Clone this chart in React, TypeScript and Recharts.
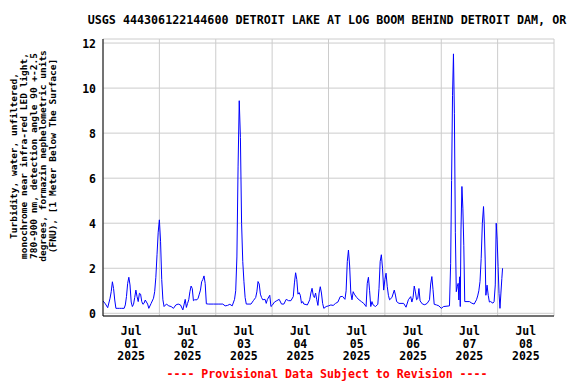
import React from "react";
import { LineChart, Line, XAxis, YAxis, CartesianGrid } from "recharts";

// Hours since 2025-07-01 00:00
const hours = [
  0, 1, 2, 3, 3.5, 4, 4.5, 5, 5.5, 6, 7, 8, 9, 9.5, 10, 10.5, 11, 11.5, 12, 12.5,
  13, 13.5, 14, 14.5, 15, 15.5, 16, 16.5, 17, 17.5, 18, 19, 19.5, 20.5, 21.5, 22, 22.5, 23, 23.5, 24,
  24.5, 25, 25.5, 26, 27, 28, 29, 30, 31, 32, 33, 34, 35, 35.5, 36, 36.5, 37, 37.5, 38, 38.5,
  39, 40, 40.5, 41, 41.5, 42, 42.5, 43, 43.5, 44, 45, 47, 49, 51, 52, 53, 54, 55, 56, 56.5,
  57, 57.5, 58, 58.5, 59, 59.5, 60, 60.5, 61, 63, 64, 65, 65.5, 66, 66.5, 67, 67.5, 68, 69, 69.5,
  70, 71, 71.5, 72, 73, 74, 75, 76, 77, 78, 79, 80, 81, 81.5, 82, 82.5, 83, 83.5, 84, 84.5,
  85, 85.5, 86, 87, 88, 88.5, 89, 89.5, 90, 90.5, 91, 91.5, 92, 92.5, 93, 93.5, 94, 95, 96, 97,
  98, 99, 100, 101, 102, 103, 103.5, 104, 104.5, 105, 105.5, 106, 106.5, 107, 108, 109, 110, 111, 112, 112.5,
  113, 113.5, 114, 114.5, 115, 116, 117, 117.5, 118, 118.5, 119, 119.5, 120, 120.5, 121, 121.5, 122, 123, 124, 124.5,
  125, 126, 128, 129, 130, 131, 131.5, 132, 132.5, 133, 133.5, 134, 134.5, 135, 136, 137, 138, 139, 139.5, 140,
  140.5, 141, 142, 143, 144, 145, 147.5, 148, 148.4, 148.8, 149.2, 149.6, 150, 150.4, 150.8, 151.2, 151.5, 151.8, 152.1, 152.4,
  152.8, 153.2, 153.6, 154, 156, 157, 158, 159, 159.5, 160, 160.5, 161, 161.5, 162, 162.3, 162.7, 163, 163.5, 164, 164.5,
  165, 166, 166.5, 167, 167.4, 167.8, 168.2, 168.6, 169, 169.4, 169.8, 170.1,
];

const turbidity = [
  0.55, 0.42, 0.25, 0.67, 0.96, 1.4, 1.1, 0.59, 0.22, 0.22, 0.22, 0.22, 0.22, 0.37, 0.75, 1.33, 1.6, 1.26, 0.5, 0.3,
  0.4, 0.7, 1.03, 0.74, 0.52, 0.89, 0.85, 0.52, 0.4, 0.45, 0.59, 0.41, 0.22, 0.44, 0.67, 0.96, 1.6, 2.6, 3.6, 4.15,
  3.2, 1.5, 0.6, 0.3, 0.41, 0.33, 0.3, 0.22, 0.37, 0.41, 0.37, 0.15, 0.62, 0.26, 0.44, 0.6, 0.96, 1.21, 1.1, 0.56,
  0.6, 0.6, 0.67, 0.85, 1.03, 1.4, 1.5, 1.66, 1.33, 0.42, 0.41, 0.41, 0.41, 0.41, 0.33, 0.35, 0.4, 0.33, 0.62, 1.0,
  2.5, 6.5, 9.44, 7.8, 4.0, 2.3, 1.4, 0.7, 0.41, 0.41, 0.56, 0.7, 0.95, 1.41, 1.3, 0.85, 0.7, 0.6, 0.62, 0.44,
  0.62, 0.8, 0.3, 0.35, 0.5, 0.56, 0.62, 0.41, 0.41, 0.62, 0.56, 0.56, 0.74, 1.35, 1.8, 1.5, 0.85, 0.92, 0.8, 0.45,
  0.52, 0.41, 0.4, 0.37, 0.6, 0.9, 1.11, 0.8, 0.7, 0.9, 0.6, 0.35, 0.9, 1.18, 0.9, 0.44, 0.22, 0.3, 0.33, 0.37,
  0.35, 0.44, 0.5, 0.74, 0.75, 0.62, 1.0, 2.3, 2.81, 2.1, 0.9, 0.6, 0.96, 0.85, 0.7, 0.6, 0.52, 0.44, 0.3, 1.33,
  1.6, 1.0, 0.3, 0.52, 0.37, 0.3, 0.4, 1.11, 2.3, 2.6, 2.0, 1.03, 1.5, 1.78, 1.2, 0.8, 0.6, 0.7, 1.03, 0.81,
  0.52, 0.44, 0.44, 0.27, 0.6, 0.74, 0.5, 0.7, 1.21, 0.95, 0.6, 0.65, 1.1, 0.55, 0.41, 0.38, 0.44, 0.6, 1.3, 1.63,
  1.05, 0.4, 0.37, 0.33, 0.22, 0.3, 0.33, 2.2, 5.9, 9.66, 11.52, 8.86, 3.6, 0.96, 1.18, 1.33, 0.59, 1.62, 0.3, 3.7,
  5.63, 4.67, 3.0, 0.52, 0.52, 0.45, 0.41, 0.6, 0.77, 1.0, 1.41, 2.44, 4.0, 4.74, 4.0, 2.37, 0.8, 1.25, 0.8, 0.5,
  0.52, 0.45, 0.52, 1.26, 4.0, 3.26, 2.07, 0.87, 0.22, 0.9, 1.55, 2.0,
];

const labelHours = [12, 36, 60, 84, 108, 132, 156, 180];
const labelMonths = ["Jul", "Jul", "Jul", "Jul", "Jul", "Jul", "Jul", "Jul"];
const labelDays = ["01", "02", "03", "04", "05", "06", "07", "08"];
const labelYears = ["2025", "2025", "2025", "2025", "2025", "2025", "2025", "2025"];
const dayBoundaries = [24, 48, 72, 96, 120, 144, 168];
const yTicks = [0, 2, 4, 6, 8, 10, 12];

const titleText = "USGS 444306122144600 DETROIT LAKE AT LOG BOOM BEHIND DETROIT DAM, OR";
const yLabelLines = [
  "Turbidity, water, unfiltered,",
  "monochrome near infra-red LED light,",
  "780-900 nm, detection angle 90 +-2.5",
  "degrees, formazin nephelometric units",
  "(FNU), [1 Meter Below The Surface]",
];
const footerText = "---- Provisional Data Subject to Revision ----";

const data = hours.map((h, i) => ({ t: h, v: turbidity[i] }));

const FONT = "'DejaVu Sans Mono', monospace";

const DayTick = (props: any) => {
  const { x, y, payload } = props;
  const i = labelHours.indexOf(payload.value);
  if (i < 0) return null;
  const lines = [labelMonths[i], labelDays[i], labelYears[i]];
  return (
    <text
      x={x}
      y={y}
      textAnchor="middle"
      fontFamily={FONT}
      fontWeight="bold"
      fontSize={11.5}
      fill="#000"
    >
      {lines.map((l, k) => (
        <tspan key={k} x={x} dy={k === 0 ? 19 : 12.5}>
          {l}
        </tspan>
      ))}
    </text>
  );
};

const EmptyTick = () => <g />;

const ValueTick = (props: any) => {
  const { x, y, payload } = props;
  return (
    <text
      x={x}
      y={y}
      dy={5}
      textAnchor="end"
      fontFamily={FONT}
      fontWeight="bold"
      fontSize={11.5}
      fill="#000"
    >
      {payload.value}
    </text>
  );
};

export default function App() {
  return (
    <div
      style={{
        position: "absolute",
        left: 0,
        top: 0,
        width: 576,
        height: 384,
        background: "#fff",
      }}
    >
      <LineChart
        width={576}
        height={384}
        data={data}
        margin={{ top: 39, right: 22, bottom: 18, left: 43 }}
      >
        <CartesianGrid
          xAxisId="days"
          stroke="#cccccc"
          strokeWidth={1}
          vertical={true}
          horizontal={true}
        />
        <XAxis
          dataKey="t"
          type="number"
          domain={[0, 192]}
          allowDataOverflow
          ticks={labelHours}
          tick={<DayTick />}
          tickLine={false}
          tickSize={0}
          tickMargin={0}
          height={50}
          axisLine={{ stroke: "#000", strokeWidth: 1 }}
          interval={0}
        />
        <XAxis
          xAxisId="days"
          dataKey="t"
          type="number"
          orientation="top"
          domain={[0, 192]}
          allowDataOverflow
          ticks={dayBoundaries}
          tick={<EmptyTick />}
          tickLine={false}
          tickSize={0}
          height={0}
          axisLine={{ stroke: "#000", strokeWidth: 1 }}
          interval={0}
        />
        <YAxis
          type="number"
          domain={[-0.12, 12.18]}
          allowDataOverflow
          ticks={yTicks}
          tick={<ValueTick />}
          tickLine={false}
          tickSize={0}
          tickMargin={7}
          width={60}
          axisLine={{ stroke: "#000", strokeWidth: 1 }}
          interval={0}
        />
        <YAxis
          yAxisId="right"
          orientation="right"
          type="number"
          domain={[-0.12, 12.18]}
          allowDataOverflow
          tick={false}
          tickLine={false}
          width={0}
          axisLine={{ stroke: "#000", strokeWidth: 1 }}
        />
        <Line
          type="linear"
          dataKey="v"
          stroke="#0000ff"
          strokeWidth={1}
          dot={false}
          activeDot={false}
          isAnimationActive={false}
        />
      </LineChart>
      <svg
        width={576}
        height={384}
        style={{ position: "absolute", left: 0, top: 0, pointerEvents: "none" }}
      >
        <text
          x={327}
          y={24}
          textAnchor="middle"
          fontFamily={FONT}
          fontWeight="bold"
          fontSize={11.7}
          fill="#000"
        >
          {titleText}
        </text>
        {yLabelLines.map((l, k) => {
          const bx = 17 + k * 9.8;
          const cy = 156;
          return (
            <text
              key={k}
              x={bx}
              y={cy}
              transform={`rotate(-90, ${bx}, ${cy})`}
              textAnchor="middle"
              fontFamily={FONT}
              fontWeight="bold"
              fontSize={9.5}
              fill="#000"
            >
              {l}
            </text>
          );
        })}
        <text
          x={327}
          y={378}
          textAnchor="middle"
          fontFamily={FONT}
          fontWeight="bold"
          fontSize={11.6}
          fill="#ff0000"
        >
          {footerText}
        </text>
      </svg>
    </div>
  );
}
